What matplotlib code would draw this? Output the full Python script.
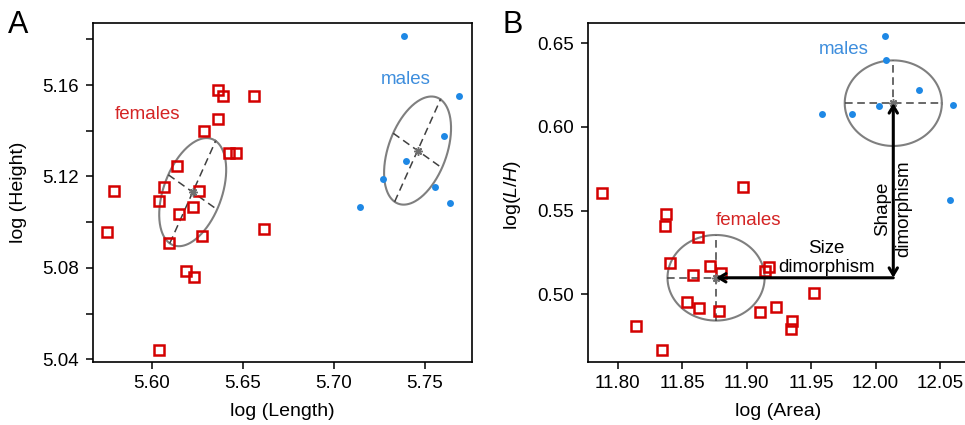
import matplotlib
matplotlib.use("Agg")
import matplotlib.pyplot as plt
import numpy as np

plt.rcParams['font.family'] = ['Liberation Sans', 'DejaVu Sans']
plt.rcParams['mathtext.fontset'] = 'custom'
plt.rcParams['mathtext.rm'] = 'Liberation Sans'
plt.rcParams['mathtext.it'] = 'Liberation Sans:italic'

# panel A: log(Length) vs log(Height)
fem_len = [5.5756, 5.5794, 5.6040, 5.6042, 5.6066, 5.6094, 5.6138, 5.6149, 5.6189, 5.6233, 5.6229,
           5.6260, 5.6279, 5.6290, 5.6363, 5.6391, 5.6367, 5.6426, 5.6464, 5.6560, 5.6615]
fem_ht = [5.0955, 5.1136, 5.1092, 5.0439, 5.1155, 5.0907, 5.1245, 5.1036, 5.0787, 5.0758, 5.1066,
          5.1137, 5.0940, 5.1399, 5.1577, 5.1553, 5.1451, 5.1302, 5.1302, 5.1553, 5.0969]
male_len = [5.7384, 5.7690, 5.7606, 5.7399, 5.7270, 5.7558, 5.7637, 5.7144]
male_ht = [5.1816, 5.1550, 5.1378, 5.1269, 5.1188, 5.1153, 5.1085, 5.1067]

# panel B: log(Area) vs log(L/H)
fem_area = [11.7878, 11.8142, 11.8344, 11.8377, 11.8367, 11.8401, 11.8623, 11.8579, 11.8540, 11.8626, 11.8711,
            11.8799, 11.8781, 11.8972, 11.9101, 11.9143, 11.9176, 11.9225, 11.9350, 11.9344, 11.9520]
fem_lh = [0.5602, 0.4809, 0.4665, 0.5479, 0.5405, 0.5187, 0.5343, 0.5114, 0.4950, 0.4918, 0.5170,
          0.5124, 0.4896, 0.5642, 0.4894, 0.5136, 0.5162, 0.4920, 0.4838, 0.4790, 0.5006]
male_area = [12.0073, 12.0081, 12.0340, 12.0030, 11.9818, 11.9582, 12.0598, 12.0580]
male_lh = [0.6546, 0.6400, 0.6223, 0.6125, 0.6075, 0.6075, 0.6131, 0.5562]

# ellipse semi-axis vectors (data units)
ellA_major = (0.0126, 0.0224)
ellA_minor = (0.0134, -0.0076)
ellB_major = (0.0377, 0.0)
ellB_minor = (0.0, 0.0256)

red = '#D40000'
blue = '#1E88E5'
red_txt = '#D42424'
blue_txt = '#3E8EDD'


def draw_group(ax, x, y, major, minor):
    cx, cy = np.mean(x), np.mean(y)
    t = np.linspace(0, 2 * np.pi, 300)
    ex = cx + major[0] * np.cos(t) + minor[0] * np.sin(t)
    ey = cy + major[1] * np.cos(t) + minor[1] * np.sin(t)
    ax.plot(ex, ey, color='#7f7f7f', lw=1.5, zorder=2)
    for v in (major, minor):
        ax.plot([cx - v[0], cx + v[0]], [cy - v[1], cy + v[1]], color='#404040',
                lw=1.1, dashes=(5, 3), zorder=2)
    ax.plot(cx, cy, marker=(8, 2, 0), ms=6, mew=1.1, color='#6f6f6f', zorder=4)
    return cx, cy


def style(ax):
    for s in ax.spines.values():
        s.set_linewidth(1.2)
    ax.tick_params(direction='out', length=4.8, width=1.1, labelsize=13.5)
    ax.tick_params(axis='y', pad=5.3)
    ax.tick_params(axis='x', pad=4)


fig = plt.figure(figsize=(9.65, 4.25), dpi=100)
axA = fig.add_axes([93.3 / 965, 1 - 362.3 / 425, 378.7 / 965, 339 / 425])
axB = fig.add_axes([588.3 / 965, 1 - 362.3 / 425, 378.7 / 965, 339 / 425])

# ---- A ----
axA.plot(fem_len, fem_ht, 's', ms=7.6, mfc='none', mec=red, mew=1.8, zorder=3)
axA.plot(male_len, male_ht, 'o', ms=5, color=blue, mec='none', zorder=3)
draw_group(axA, fem_len, fem_ht, ellA_major, ellA_minor)
draw_group(axA, male_len, male_ht, ellA_major, ellA_minor)
axA.text(5.5978, 5.1469, 'females', color=red_txt, fontsize=13.5, ha='center', va='center')
axA.text(5.7395, 5.1626, 'males', color=blue_txt, fontsize=13.5, ha='center', va='center')
axA.set_xlim(5.568, 5.776)
axA.set_ylim(5.0387, 5.187)
axA.set_xticks([5.60, 5.65, 5.70, 5.75])
yt = np.round(np.arange(5.04, 5.19, 0.02), 2)
axA.set_yticks(yt)
axA.set_yticklabels(['%.2f' % v if i % 2 == 0 else '' for i, v in enumerate(yt)])
style(axA)
axA.set_xlabel('log (Length)', fontsize=14)
axA.set_ylabel('log (Height)', fontsize=14)
axA.xaxis.set_label_coords(0.5, -0.12)
axA.yaxis.set_label_coords(-0.175, 0.5)

# ---- B ----
axB.plot(fem_area, fem_lh, 's', ms=7.6, mfc='none', mec=red, mew=1.8, zorder=3)
axB.plot(male_area, male_lh, 'o', ms=5, color=blue, mec='none', zorder=3)
fx, fy = draw_group(axB, fem_area, fem_lh, ellB_major, ellB_minor)
mx, my = draw_group(axB, male_area, male_lh, ellB_major, ellB_minor)
axB.annotate('', xy=(fx, fy), xytext=(mx, fy),
             arrowprops=dict(arrowstyle='->,head_length=0.5,head_width=0.3', lw=2.2,
                             color='black', shrinkA=0, shrinkB=0), zorder=5)
axB.annotate('', xy=(mx, my), xytext=(mx, fy),
             arrowprops=dict(arrowstyle='<->,head_length=0.5,head_width=0.3', lw=2.2,
                             color='black', shrinkA=0, shrinkB=0), zorder=5)
axB.text(11.9616, 0.5218, 'Size\ndimorphism', fontsize=13.5, ha='center', va='center',
         linespacing=1.15)
axB.text(mx, 0.5509, 'Shape\ndimorphism', fontsize=13.5, ha='center', va='center',
         rotation=90, linespacing=1.3)
axB.text(11.9754, 0.6466, 'males', color=blue_txt, fontsize=13.5, ha='center', va='center')
axB.text(11.9015, 0.5439, 'females', color=red_txt, fontsize=13.5, ha='center', va='center')
axB.set_xlim(11.777, 12.071)
axB.set_ylim(0.4592, 0.662)
axB.set_xticks([11.80, 11.85, 11.90, 11.95, 12.00, 12.05])
axB.set_xticklabels(['11.80', '11.85', '11.90', '11.95', '12.00', '12.05'])
axB.set_yticks([0.50, 0.55, 0.60, 0.65])
axB.set_yticklabels(['0.50', '0.55', '0.60', '0.65'])
style(axB)
axB.set_xlabel('log (Area)', fontsize=14)
axB.set_ylabel(r'log($\mathit{L/H}$)', fontsize=14)
axB.xaxis.set_label_coords(0.5, -0.12)
axB.yaxis.set_label_coords(-0.173, 0.494)

fig.text(8 / 965, 1 - 33 / 425, 'A', fontsize=22, va='baseline')
fig.text(502 / 965, 1 - 33 / 425, 'B', fontsize=22, va='baseline')

fig.savefig('out.png', dpi=100)
